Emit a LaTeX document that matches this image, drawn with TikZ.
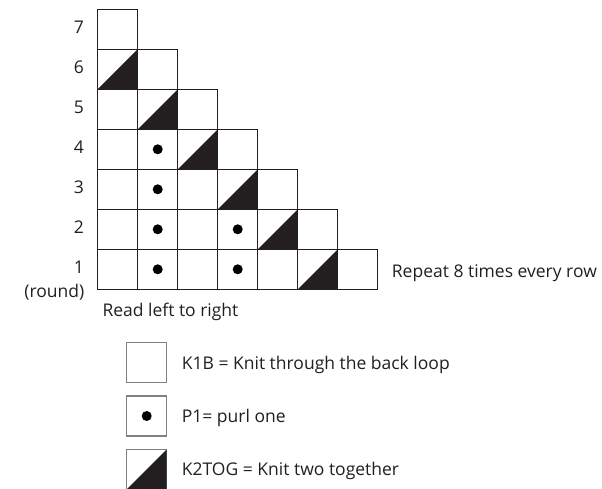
\documentclass[tikz,border=0pt]{standalone}
\usepackage{fontspec}
\setmainfont{Open Sans}
\definecolor{ink}{HTML}{231F20}
\begin{document}
\begin{tikzpicture}[x=1pt,y=-1pt,
  cell/.style={draw=ink, line width=0.9pt, rectangle, minimum size=40pt, inner sep=0pt, outer sep=0pt, anchor=north west},
  lcell/.style={draw=black!50, line width=1.4pt, rectangle, minimum size=40pt, inner sep=0pt, outer sep=0pt, anchor=north west},
  purl/.style={circle, fill=black, minimum size=10pt, inner sep=0pt},
  lbl/.style={font=\fontsize{17.5}{21}\selectfont, text=ink, inner sep=0pt},
  togfill/.style={fill=ink}
]
\useasboundingbox (0,0) rectangle (602,489);
% chart cells
\foreach \r in {1,...,7} {
  \pgfmathtruncatemacro\n{8-\r}
  \foreach \c in {1,...,\n} {
    \node[cell] (c\r-\c) at ({97.7+40*(\c-1)}, {289.3-40*\r}) {};
  }
}
% K2TOG triangles
\foreach \r in {1,...,6} {
  \pgfmathtruncatemacro\c{7-\r}
  \fill[togfill] (c\r-\c.south west) -- (c\r-\c.south east) -- (c\r-\c.north east) -- cycle;
}
% purl dots
\foreach \r/\c in {1/2,2/2,3/2,4/2,1/4,2/4} {
  \node[purl] (p\r-\c) at (c\r-\c.center) {};
}
% row labels
\foreach \r in {1,...,7} {
  \node[lbl, anchor=base east] (row\r) at (84, {269.3-40*(\r-1)+4.5}) {\r};
}
\node[lbl, anchor=base east] (round) at (84.5, 297.5) {(round)};
\node[lbl, anchor=base west] (read) at (102.3, 316) {Read left to right};
\node[lbl, anchor=base west] (repeat) at (391.7, 277) {Repeat 8 times every row};
% legend
\node[lcell] (k1b) at (126.7, 342.7) {};
\node[lcell] (p1) at (126.7, 396) {};
\node[lcell] (k2tog) at (126.7, 449.3) {};
\node[purl] (p1dot) at (p1.center) {};
\fill[togfill] (k2tog.south west) -- (k2tog.south east) -- (k2tog.north east) -- cycle;
\node[lbl, anchor=base west] (k1bt) at (181.7, 369) {K1B = Knit through the back loop};
\node[lbl, anchor=base west] (p1t) at (181.7, 422.3) {P1= purl one};
\node[lbl, anchor=base west] (k2togt) at (181.7, 475.6) {K2TOG = Knit two together};
\end{tikzpicture}
\end{document}
